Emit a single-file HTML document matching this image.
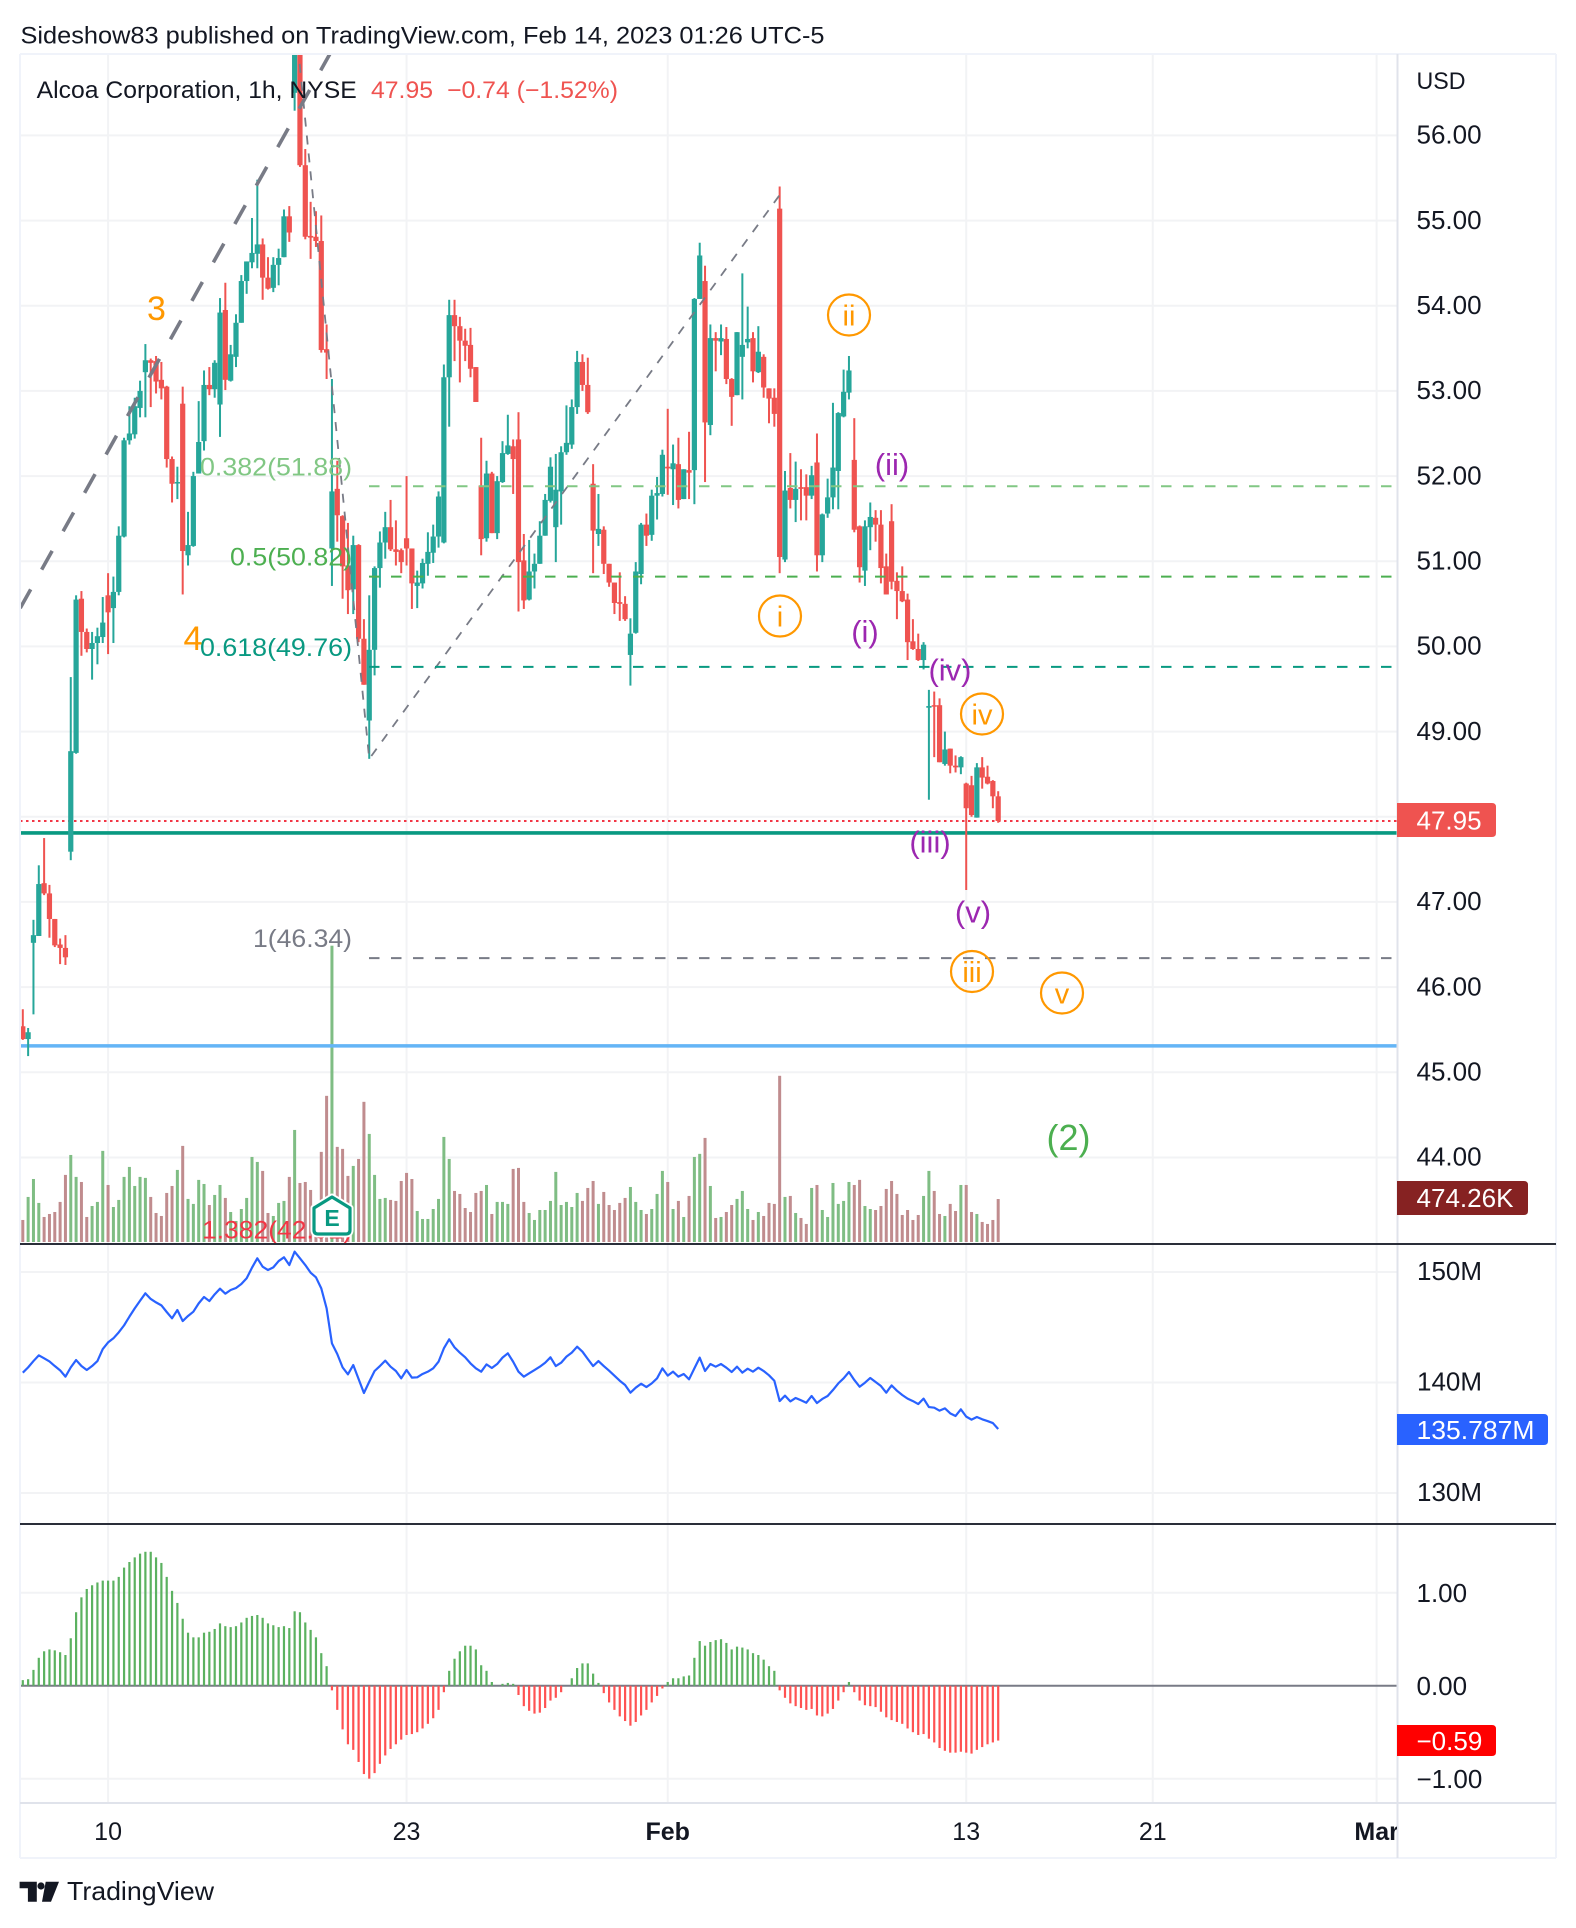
<!DOCTYPE html>
<html lang="en">
<head>
<meta charset="utf-8">
<title>Alcoa Corporation 1h chart</title>
<style>
html,body{margin:0;padding:0;background:#fff;}
svg{display:block;font-family:"Liberation Sans",sans-serif;}
text{fill:#131722;}
</style>
</head>
<body>
<svg id="chart" xmlns="http://www.w3.org/2000/svg" width="1576" height="1928" viewBox="0 0 1576 1928">
  <defs>
    <clipPath id="main-clip"><rect x="20" y="54" width="1377" height="1189"/></clipPath>
    <clipPath id="axis-clip"><rect x="20" y="1804" width="1377" height="54"/></clipPath>
  </defs>
  <rect x="0" y="0" width="1576" height="1928" fill="#ffffff"/>
  <text x="20.5" y="43.5" font-size="24" textLength="804" lengthAdjust="spacingAndGlyphs">Sideshow83 published on TradingView.com, Feb 14, 2023 01:26 UTC-5</text>
  <g id="grid"></g>
  <g id="main-pane" clip-path="url(#main-clip)">
    <g id="volume-layer"></g>
    <g id="level-layer"></g>
    <g id="candle-layer"></g>
    <g id="drawing-layer"></g>
    <g id="fib-layer"></g>
    <g>
      <path d="M332 1197 L350 1208 Q350 1208 350 1210 L350 1230 Q350 1234 346 1234 L318 1234 Q314 1234 314 1230 L314 1210 Q314 1208 314 1208 Z" fill="#fff" stroke="#fff" stroke-width="7" stroke-linejoin="round"/>
      <path d="M332 1197 L350 1208 Q350 1208 350 1210 L350 1230 Q350 1234 346 1234 L318 1234 Q314 1234 314 1230 L314 1210 Q314 1208 314 1208 Z" fill="#fff" stroke="#089981" stroke-width="3.2" stroke-linejoin="round"/>
      <text x="332" y="1226" font-size="23" font-weight="bold" text-anchor="middle" style="fill:#089981">E</text>
    </g>
    <g font-size="31" text-anchor="middle">
      <text x="156.5" y="320" font-size="34" style="fill:#ff9800">3</text>
      <text x="193" y="650" font-size="34" style="fill:#ff9800">4</text>
      <text x="892" y="475" style="fill:#9c27b0">(ii)</text>
      <text x="865" y="642" style="fill:#9c27b0">(i)</text>
      <text x="950" y="680.5" style="fill:#9c27b0">(iv)</text>
      <text x="930" y="852.5" style="fill:#9c27b0">(iii)</text>
      <text x="973" y="922.5" style="fill:#9c27b0">(v)</text>
      <text x="1068.5" y="1150" font-size="36" style="fill:#4caf50">(2)</text>
      <ellipse cx="780" cy="616" rx="21" ry="20.5" fill="none" stroke="#ff9800" stroke-width="2.2"/>
      <text x="780" y="626.5" font-size="29" style="fill:#ff9800">i</text>
      <ellipse cx="849" cy="315" rx="21" ry="20.5" fill="none" stroke="#ff9800" stroke-width="2.2"/>
      <text x="849" y="325.5" font-size="29" style="fill:#ff9800">ii</text>
      <ellipse cx="972" cy="971.5" rx="21" ry="20.5" fill="none" stroke="#ff9800" stroke-width="2.2"/>
      <text x="972" y="982" font-size="29" style="fill:#ff9800">iii</text>
      <ellipse cx="982" cy="714" rx="21" ry="20.5" fill="none" stroke="#ff9800" stroke-width="2.2"/>
      <text x="982" y="724.5" font-size="29" style="fill:#ff9800">iv</text>
      <ellipse cx="1062" cy="993" rx="21" ry="20.5" fill="none" stroke="#ff9800" stroke-width="2.2"/>
      <text x="1062" y="1003.5" font-size="29" style="fill:#ff9800">v</text>
    </g>
  </g>
  <polyline id="obv-line" fill="none" stroke="#2962ff" stroke-width="2.2" stroke-linejoin="round"/>
  <g id="macd-layer"></g>
  <g id="frame">
    <line x1="20" y1="54" x2="1556" y2="54" stroke="#f0f3fa" stroke-width="2"/>
    <line x1="20" y1="54" x2="20" y2="1858" stroke="#f0f3fa" stroke-width="2"/>
    <line x1="1556" y1="54" x2="1556" y2="1858" stroke="#f0f3fa" stroke-width="2"/>
    <line x1="20" y1="1858" x2="1556" y2="1858" stroke="#f0f3fa" stroke-width="2"/>
    <line x1="1397.5" y1="54" x2="1397.5" y2="1858" stroke="#e0e3eb" stroke-width="2"/>
    <line x1="20" y1="1803" x2="1556" y2="1803" stroke="#e0e3eb" stroke-width="2"/>
    <line x1="20" y1="1244" x2="1556" y2="1244" stroke="#2a2e39" stroke-width="2"/>
    <line x1="20" y1="1524" x2="1556" y2="1524" stroke="#2a2e39" stroke-width="2"/>
  </g>
  <text x="36.7" y="98" font-size="24" textLength="320" lengthAdjust="spacingAndGlyphs">Alcoa Corporation, 1h, NYSE</text>
  <text x="371" y="98" font-size="24" textLength="62" lengthAdjust="spacingAndGlyphs" style="fill:#ef5350">47.95</text>
  <text x="447" y="98" font-size="24" textLength="171" lengthAdjust="spacingAndGlyphs" style="fill:#ef5350">−0.74 (−1.52%)</text>
  <g id="axis-labels"></g>
  <g id="time-labels" clip-path="url(#axis-clip)"></g>
  <text x="1416.5" y="89" font-size="24" textLength="49" lengthAdjust="spacingAndGlyphs">USD</text>
  <g>
    <path d="M1397 803 H1492 Q1496 803 1496 807 V833 Q1496 837 1492 837 H1397 Z" fill="#ef5350"/>
    <text x="1416.5" y="829.5" font-size="26" style="fill:#fff">47.95</text>
  </g>
  <g>
    <path d="M1397 1181 H1524 Q1528 1181 1528 1185 V1211 Q1528 1215 1524 1215 H1397 Z" fill="#862222"/>
    <text x="1416.5" y="1207" font-size="26" textLength="97" lengthAdjust="spacingAndGlyphs" style="fill:#fff">474.26K</text>
  </g>
  <g>
    <path d="M1397 1414 H1544 Q1548 1414 1548 1418 V1441 Q1548 1445 1544 1445 H1397 Z" fill="#2962ff"/>
    <text x="1416.5" y="1439" font-size="26" textLength="118" lengthAdjust="spacingAndGlyphs" style="fill:#fff">135.787M</text>
  </g>
  <g>
    <path d="M1397 1725 H1492 Q1496 1725 1496 1729 V1752 Q1496 1756 1492 1756 H1397 Z" fill="#ff0000"/>
    <text x="1416.5" y="1750" font-size="26" style="fill:#fff">−0.59</text>
  </g>
  <g>
    <path d="M19.6 1881.7 H36.8 V1901.7 H27.9 V1888.3 H19.6 Z M45.7 1881.7 H59 L51 1901.7 H42 Z" fill="#131722"/>
    <circle cx="41" cy="1886" r="3.6" fill="#131722"/>
    <text x="67" y="1900" font-size="26" textLength="147" lengthAdjust="spacingAndGlyphs">TradingView</text>
  </g>
</svg>
<script>
const opens = [45.54,45.39,46.52,46.6,47.22,47.1,46.8,46.5,46.46,47.59,
48.75,50.56,50.17,49.97,50.04,50.11,50.6,50.45,50.64,51.29,
52.42,52.49,52.8,53.22,53.36,53.35,53.13,53.05,52.2,51.92,
52.85,51.07,51.18,52.03,52.41,53.07,53.02,52.84,53.95,53.12,
53.4,53.8,54.29,54.51,54.61,54.72,54.33,54.21,54.48,54.57,
55.05,56.5,57.3,55.65,54.82,54.81,54.76,53.49,51.15,51.85,
51.53,50.95,50.67,51.19,50.09,49.13,49.96,50.92,51.22,51.4,
51.14,51.13,51.27,51.15,50.71,50.74,50.97,51.1,51.29,51.22,
53.16,53.89,53.76,53.59,53.54,53.28,51.89,51.27,52.03,51.33,
51.93,52.26,52.35,52.43,51.01,50.55,50.88,50.97,51.3,51.71,
51.4,51.82,52.28,52.37,52.81,53.34,53.07,51.91,51.32,51.37,
50.97,50.75,50.52,50.5,49.9,50.16,50.85,51.43,51.31,51.77,
51.79,52.11,52.08,52.14,51.73,52.07,52.07,54.08,54.29,52.6,
53.62,53.58,53.61,53.14,52.95,53.4,53.57,53.62,53.22,53.4,
53.03,52.92,55.14,51.02,51.86,51.72,51.87,51.87,51.77,52.16,
51.07,51.56,51.75,52.06,52.7,52.98,52.19,51.41,50.89,51.4,
51.51,51.43,50.94,51.47,50.77,50.65,50.55,50.06,49.97,49.84,
49.28,49.31,49.31,48.62,48.8,48.6,48.58,48.39,48.37,47.99,
48.58,48.47,48.42,48.24];
const closes = [45.39,45.47,46.61,47.21,47.1,46.8,46.49,46.46,46.35,48.77,
50.55,50.17,49.97,50.04,50.12,50.28,50.4,50.64,51.3,52.42,
52.5,52.82,53.0,53.36,53.33,53.11,53.03,52.2,51.91,51.93,
51.12,51.19,52.0,52.4,53.07,53.02,53.33,53.92,53.13,53.43,
53.8,54.29,54.52,54.62,54.72,54.33,54.2,54.48,54.56,55.05,
54.86,57.3,55.65,54.81,54.8,54.76,53.48,53.45,51.82,51.54,
50.94,50.66,51.19,50.09,49.55,49.96,50.92,51.22,51.4,51.14,
51.11,50.99,51.15,50.74,50.75,50.98,51.11,51.29,51.76,53.16,
53.89,53.76,53.59,53.53,53.26,52.87,51.26,52.03,51.33,51.94,
52.27,52.36,52.2,50.99,50.54,50.88,50.97,51.3,51.72,52.11,
51.84,52.28,52.39,52.81,53.34,53.07,52.75,51.36,51.38,50.97,
50.75,50.51,50.5,50.32,50.15,50.88,51.43,51.3,51.77,51.8,
52.25,52.09,52.15,51.72,52.08,52.04,54.08,54.59,52.63,53.62,
53.59,53.62,53.14,52.93,53.69,53.54,53.61,53.23,53.46,53.04,
52.91,52.73,51.05,51.83,51.72,51.85,51.85,51.77,52.01,51.07,
51.55,51.75,52.1,52.74,52.99,53.24,51.37,50.93,51.41,51.52,
51.43,50.92,50.61,50.76,50.65,50.53,50.05,49.97,49.84,50.02,
49.3,49.3,48.64,48.79,48.6,48.58,48.7,48.1,48.02,48.58,
48.46,48.39,48.24,47.95];
const highs = [45.74,45.52,46.79,47.43,47.75,47.2,46.8,46.57,46.61,49.64,
50.6,50.65,50.21,50.17,50.22,50.58,50.86,50.82,51.41,52.45,
52.82,52.92,53.12,53.55,53.38,53.41,53.34,53.06,52.23,52.11,
53.05,51.58,52.05,52.88,53.24,53.28,53.36,54.09,54.27,53.54,
53.9,54.36,54.52,55.03,55.48,54.79,54.57,54.57,54.67,55.13,
55.17,57.5,57.5,55.84,55.22,55.11,55.06,53.78,53.14,52.18,
51.54,51.45,51.3,51.2,50.32,50.6,50.94,51.35,51.58,51.72,
51.48,51.15,52.0,51.15,50.89,51.03,51.34,51.43,51.82,53.31,
54.07,54.07,53.87,53.73,53.74,53.28,52.45,52.18,52.05,52.0,
52.41,52.72,52.43,52.75,51.32,51.25,51.09,51.47,51.79,52.22,
52.26,52.35,52.83,52.9,53.47,53.43,53.39,52.14,51.79,51.41,
50.97,50.75,50.87,50.59,50.33,50.99,51.45,51.56,51.84,51.99,
52.31,52.79,52.37,52.45,52.08,52.52,54.09,54.74,54.47,53.78,
53.69,53.78,53.75,53.15,53.69,54.38,53.99,53.69,53.76,53.43,
53.03,53.03,55.4,52.06,52.27,52.17,52.08,52.02,52.12,52.5,
51.56,51.97,52.86,52.75,53.25,53.41,52.68,51.42,51.48,51.69,
51.6,51.6,51.09,51.67,50.87,50.94,50.62,50.32,50.15,50.05,
49.49,49.47,49.39,49.0,48.8,48.72,48.71,48.4,48.48,48.63,
48.7,48.6,48.43,48.3];
const lows = [45.38,45.19,45.68,46.6,47.08,46.58,46.47,46.27,46.26,47.49,
48.74,49.89,49.93,49.61,49.79,50.04,49.91,50.04,50.6,51.28,
52.37,52.44,52.69,52.69,52.81,52.97,52.9,52.1,51.69,51.73,
50.61,50.95,51.17,52.03,52.3,52.95,52.92,52.46,53.01,53.11,
53.28,53.8,54.14,54.44,54.44,54.07,54.19,54.16,54.24,54.57,
54.75,56.29,55.63,54.78,54.55,54.69,53.45,53.14,50.71,51.23,
50.56,50.38,50.38,50.05,49.55,48.68,49.66,50.69,51.03,51.12,
50.95,50.86,50.95,50.44,50.45,50.68,50.83,50.98,51.16,51.21,
52.58,53.35,53.1,53.35,53.16,52.87,51.07,51.23,51.33,51.26,
51.92,52.25,51.79,50.41,50.44,50.54,50.68,50.97,51.3,51.69,
50.99,51.43,52.25,52.32,52.73,53.0,52.73,50.86,51.18,50.85,
50.7,50.38,50.3,50.3,49.54,50.15,50.73,51.18,51.24,51.49,
51.76,51.78,51.66,51.62,51.73,51.73,51.67,54.08,51.93,52.48,
53.23,53.42,53.08,52.59,52.95,52.9,53.5,53.1,53.21,52.92,
52.62,52.58,50.86,50.99,51.62,51.46,51.48,51.48,51.73,50.88,
50.99,51.51,51.61,51.61,52.69,52.9,51.34,50.75,50.71,51.13,
51.23,50.74,50.61,50.67,50.32,50.52,49.84,49.96,49.83,49.73,
48.2,48.7,48.64,48.6,48.51,48.52,48.5,47.14,48.0,47.99,
48.33,48.38,48.1,47.93];
const volumesK = [243,497,695,431,276,309,331,442,740,960,
718,662,276,397,442,1005,629,386,464,718,
828,618,718,707,497,320,287,541,618,795,
1060,475,420,685,640,408,519,629,486,331,
232,364,486,938,883,784,320,287,431,453,
718,1236,651,662,574,416,994,1612,3268,1049,
1027,729,839,916,1546,1192,740,475,486,464,
453,673,762,695,342,254,254,364,475,1159,
916,563,530,375,331,541,563,629,309,442,
442,420,806,817,442,320,243,353,353,453,
773,408,442,386,541,453,596,673,420,552,
408,353,431,486,607,442,353,309,364,530,
784,662,364,453,276,508,938,972,1148,618,
265,276,331,408,475,563,364,243,331,287,
431,420,1833,497,508,320,265,199,596,629,
353,276,651,420,453,662,629,685,397,364,
353,397,585,673,530,298,353,243,298,508,
784,563,309,287,420,342,629,629,331,309,
221,199,243,474];
const obvMillions = [140.89,141.37,141.94,142.46,142.19,141.91,141.49,141.10,140.53,141.37,
142.03,141.49,141.13,141.49,141.94,143.03,143.63,144.00,144.54,145.17,
145.96,146.71,147.40,148.07,147.56,147.25,146.98,146.38,145.81,146.56,
145.56,146.02,146.41,147.16,147.74,147.37,147.98,148.49,148.04,148.37,
148.55,148.91,149.43,150.39,151.24,150.48,150.18,150.42,150.99,151.33,
150.63,151.84,151.24,150.63,149.94,149.52,148.52,146.71,143.54,142.58,
141.37,140.74,141.58,140.32,139.05,140.07,141.04,141.49,141.98,141.43,
141.04,140.38,141.13,140.44,140.47,140.77,140.98,141.28,141.88,143.09,
143.91,143.18,142.70,142.28,141.73,141.28,140.98,141.64,141.31,141.67,
142.25,142.64,141.88,140.98,140.53,140.83,141.13,141.43,141.79,142.28,
141.49,141.79,142.34,142.70,143.24,142.79,142.13,141.49,141.94,141.49,
141.07,140.62,140.16,139.77,139.08,139.53,139.89,139.59,139.92,140.38,
141.28,140.62,140.98,140.53,140.77,140.29,141.28,142.25,141.04,141.67,
141.43,141.67,141.34,140.95,141.43,140.89,141.25,140.98,141.34,141.04,
140.65,140.16,138.32,138.81,138.29,138.60,138.39,138.17,138.78,138.14,
138.51,138.78,139.32,139.92,140.38,140.95,140.23,139.62,139.98,140.41,
140.04,139.68,139.08,139.74,139.26,138.87,138.54,138.32,138.05,138.54,
137.78,137.72,137.45,137.66,137.21,136.97,137.57,136.91,136.64,136.88,
136.67,136.51,136.33,135.79];
const macdHist = [.06,.07,.17,.30,.37,.39,.38,.36,.33,.51,
.79,.95,1.04,1.08,1.11,1.13,1.13,1.13,1.17,1.27,
1.33,1.38,1.42,1.44,1.44,1.38,1.32,1.17,1.02,.89,
.72,.57,.52,.52,.57,.58,.61,.67,.64,.63,
.64,.68,.73,.75,.76,.73,.67,.65,.63,.64,
.62,.80,.79,.68,.60,.52,.35,.21,-.05,-.26,
-.47,-.63,-.69,-.82,-.95,-1.00,-.94,-.84,-.75,-.68,
-.63,-.58,-.53,-.52,-.50,-.46,-.41,-.35,-.26,-.07,
.16,.29,.37,.43,.43,.39,.22,.16,.04,.00,
.02,.03,.02,-.10,-.22,-.27,-.30,-.29,-.24,-.16,
-.13,-.07,.00,.08,.19,.24,.24,.13,.03,-.08,
-.18,-.26,-.33,-.38,-.43,-.39,-.32,-.26,-.18,-.11,
-.03,.04,.08,.08,.10,.11,.30,.48,.43,.47,
.49,.50,.46,.39,.42,.41,.39,.35,.33,.28,
.21,.16,-.05,-.13,-.19,-.22,-.24,-.26,-.25,-.32,
-.33,-.30,-.25,-.16,-.07,.04,-.07,-.16,-.21,-.22,
-.23,-.28,-.34,-.37,-.39,-.41,-.46,-.50,-.53,-.52,
-.57,-.61,-.67,-.70,-.72,-.72,-.71,-.72,-.73,-.69,
-.66,-.63,-.61,-.59];
const priceTicks = [56,55,54,53,52,51,50,49,47,46,45,44];
const obvTicks = [150,140,130];
const macdTicks = [1,0,-1];
const timeTickLabels = ['10','23','Feb','13','21','Mar'];
const timeTickBars = [16,72,121,177,212,254];
const fibLabels = ['0.382(51.88)','0.5(50.82)','0.618(49.76)','1(46.34)','1.382(42.92)'];
const fibPrices = [51.88,50.82,49.76,46.34,42.92];
const lastPrice = 47.95;
const supportPrice = 47.81;
const targetPrice = 45.31;
const zigzagBars = [51.6,65,142];
const zigzagPrices = [57.05,48.68,55.3];
const trendBars = [-0.49,58];
const trendPrices = [50.45,57];

const NS = 'http://www.w3.org/2000/svg';
const xScale = i => 22.8 + 5.33 * i;
const yPrice = p => 135.4 + (56 - p) * 85.17;
const yVolume = v => 43 * v / 474.26;
const yObv = m => 1272 + (150 - m) * 11.05;
const yMacd = v => 1685.7 - v * 93;
const fibColors = ['#81c784','#4caf50','#089981','#787b86','#f23645'];
const fibWidths = [152,122,152,99,150];

function mk(parent, tag, attrs, content) {
  const el = document.createElementNS(NS, tag);
  for (const k in attrs) el.setAttribute(k, attrs[k]);
  if (content !== undefined) el.textContent = content;
  parent.appendChild(el);
  return el;
}
const gridLayer = document.getElementById('grid');
const volumeLayer = document.getElementById('volume-layer');
const levelLayer = document.getElementById('level-layer');
const candleLayer = document.getElementById('candle-layer');
const drawingLayer = document.getElementById('drawing-layer');
const fibLayer = document.getElementById('fib-layer');
const macdLayer = document.getElementById('macd-layer');
const axisLabels = document.getElementById('axis-labels');
const timeLabels = document.getElementById('time-labels');
const GRID = '#f2f3f5';

timeTickBars.forEach((b, idx) => {
  const gx = xScale(b);
  const v = mk(gridLayer, 'line', {x1: gx, y1: 54, x2: gx, y2: 1803, stroke: GRID, 'stroke-width': 2});
  
  
  const t = mk(timeLabels, 'text', {x: gx, y: 1840, 'font-size': 25, 'text-anchor': 'middle', 'font-weight': (timeTickLabels[idx] === 'Feb' || timeTickLabels[idx] === 'Mar') ? 'bold' : 'normal'}, timeTickLabels[idx]);
  
  
});
priceTicks.forEach(p => {
  const py = yPrice(p);
  const g = mk(gridLayer, 'line', {x1: 20, y1: py, x2: 1397, y2: py, stroke: GRID, 'stroke-width': 2});
  
  
  const t = mk(axisLabels, 'text', {x: 1416.5, y: py + 8.2, 'font-size': 26}, p.toFixed(2));
  
  
});
const hidden48 = mk(gridLayer, 'line', {x1: 20, y1: yPrice(48), x2: 1397, y2: yPrice(48), stroke: GRID, 'stroke-width': 2});


obvTicks.forEach(m => {
  const oy = yObv(m);
  const g = mk(gridLayer, 'line', {x1: 20, y1: oy, x2: 1397, y2: oy, stroke: GRID, 'stroke-width': 2});
  
  
  const t = mk(axisLabels, 'text', {x: 1417, y: oy + 8.2, 'font-size': 26, textLength: 65, lengthAdjust: 'spacingAndGlyphs'}, m + 'M');
  
  
});
macdTicks.forEach(v => {
  const my = yMacd(v);
  const stroke = v === 0 ? '#787b86' : GRID;
  const g = mk(gridLayer, 'line', {x1: 20, y1: my, x2: 1397, y2: my, stroke: stroke, 'stroke-width': 2});
  
  
  const label = (v < 0 ? '−' + Math.abs(v).toFixed(2) : v.toFixed(2));
  const t = mk(axisLabels, 'text', {x: 1416.5, y: my + 9.3, 'font-size': 26}, label);
  
  
});

volumesK.forEach((v, i) => {
  const h = yVolume(v);
  const up = closes[i] >= opens[i];
  const bar = mk(volumeLayer, 'rect', {x: xScale(i) - 1.5, y: 1242 - h, width: 3, height: h, fill: up ? '#7fbd84' : '#c08c8e'});
  
  
});

const lastLine = mk(levelLayer, 'line', {x1: 20, y1: yPrice(lastPrice), x2: 1397, y2: yPrice(lastPrice), stroke: '#f23645', 'stroke-width': 2, 'stroke-dasharray': '2.5 3.5'});


const supportLine = mk(levelLayer, 'line', {x1: 20, y1: yPrice(supportPrice), x2: 1397, y2: yPrice(supportPrice), stroke: '#089981', 'stroke-width': 3.6});


const targetLine = mk(levelLayer, 'line', {x1: 20, y1: yPrice(targetPrice), x2: 1397, y2: yPrice(targetPrice), stroke: '#64b5f6', 'stroke-width': 3.6});



opens.forEach((o, i) => {
  const c = closes[i];
  const up = c >= o;
  const col = up ? '#26a69a' : '#ef5350';
  const cx = xScale(i);
  const wick = mk(candleLayer, 'rect', {x: cx - 1, y: yPrice(highs[i]), width: 2, height: yPrice(lows[i]) - yPrice(highs[i]), fill: col});
  
  
  const top = yPrice(Math.max(o, c));
  const bh = Math.max(1.5, Math.abs(yPrice(o) - yPrice(c)));
  const body = mk(candleLayer, 'rect', {x: cx - 2.6, y: top, width: 5.2, height: bh, fill: col});
  
  
});

const trend = mk(drawingLayer, 'polyline', {points: trendBars.map((b, k) => xScale(b) + ',' + yPrice(trendPrices[k])).join(' '), fill: 'none', stroke: '#787b86', 'stroke-width': 3.6, 'stroke-dasharray': '21.5 22.5'});


const zigzag = mk(drawingLayer, 'polyline', {points: zigzagBars.map((b, k) => xScale(b) + ',' + yPrice(zigzagPrices[k])).join(' '), fill: 'none', stroke: '#787b86', 'stroke-width': 1.8, 'stroke-dasharray': '9 9'});



fibPrices.forEach((p, k) => {
  const fy = yPrice(p);
  const line = mk(fibLayer, 'line', {x1: 369, y1: fy, x2: 1392, y2: fy, stroke: fibColors[k], 'stroke-width': 2, 'stroke-dasharray': '10.5 11.5'});
  
  
  const lab = mk(fibLayer, 'text', {x: 352, y: fy - 20 + 9, 'font-size': 25, 'text-anchor': 'end', textLength: fibWidths[k], lengthAdjust: 'spacingAndGlyphs', style: 'fill:' + fibColors[k]}, fibLabels[k]);
  
  
});

document.getElementById('obv-line').setAttribute('points', obvMillions.map((m, i) => xScale(i) + ',' + yObv(m)).join(' '));

macdHist.forEach((v, i) => {
  const y0 = yMacd(0);
  const y1 = yMacd(v);
  const bar = mk(macdLayer, 'rect', {x: xScale(i) - 1.1, y: Math.min(y0, y1), width: 2.2, height: Math.abs(y0 - y1), fill: v >= 0 ? '#5bb160' : '#ff5252'});
  
  
});
</script>
</body>
</html>
